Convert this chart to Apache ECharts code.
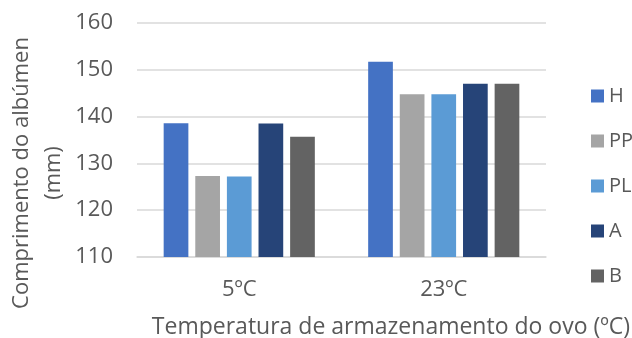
<!DOCTYPE html>
<html><head><meta charset="utf-8">
<script src="https://cdn.jsdelivr.net/npm/echarts@6/dist/echarts.min.js"></script>
<style>html,body{margin:0;padding:0;background:#fff}#c{width:632px;height:338px}</style>
</head><body><div id="c"></div>
<script>
const categories = ['5ºC', '23ºC'];
const seriesNames = ['H', 'PP', 'PL', 'A', 'B'];
const H  = [138.6, 151.7];
const PP = [127.3, 144.8];
const PL = [127.2, 144.8];
const A  = [138.5, 147.0];
const B  = [135.7, 147.0];
const yTicks = [110, 120, 130, 140, 150, 160];
const colors = ['#4472C4', '#A5A5A5', '#5B9BD5', '#264478', '#636363'];
const values = [H, PP, PL, A, B];

const FONT = 'Open Sans';
const chart = echarts.init(document.getElementById('c'), null, {renderer: 'canvas'});
chart.setOption({
  animation: false,
  color: colors,
  grid: {left: 137, right: 86, top: 23, bottom: 81, containLabel: false},
  xAxis: {
    type: 'category', data: categories,
    axisLine: {lineStyle: {color: '#d9d9d9', width: 1.5}},
    axisTick: {show: false},
    axisLabel: {color: '#595959', fontFamily: FONT, fontSize: 22, margin: 22}
  },
  yAxis: {
    type: 'value', min: yTicks[0], max: yTicks[yTicks.length - 1], interval: 10,
    axisLine: {show: false}, axisTick: {show: false},
    axisLabel: {color: '#595959', fontFamily: FONT, fontSize: 22, margin: 24},
    splitLine: {lineStyle: {color: '#d9d9d9', width: 1.5}}
  },
  legend: {
    orient: 'vertical', left: 586, top: 80,
    itemWidth: 13, itemHeight: 13, itemGap: 23,
    icon: 'rect',
    textStyle: {color: '#595959', fontFamily: FONT, fontSize: 20, lineHeight: 22},
    data: seriesNames
  },
  graphic: [
    {type: 'text', x: 38, y: 173, rotation: Math.PI / 2,
     style: {text: 'Comprimento do albúmen\n(mm)', fill: '#595959', font: '22px "Open Sans"', lineHeight: 32, align: 'center', verticalAlign: 'middle'}},
    {type: 'text', x: 391, y: 327,
     style: {text: 'Temperatura de armazenamento do ovo (ºC)', fill: '#595959', font: '23px "Open Sans"', align: 'center', verticalAlign: 'middle'}}
  ],
  series: seriesNames.map((n, i) => ({
    name: n, type: 'bar', data: values[i],
    barWidth: 24.7, barGap: '28%',
    itemStyle: {color: colors[i]}
  }))
});
</script></body></html>
